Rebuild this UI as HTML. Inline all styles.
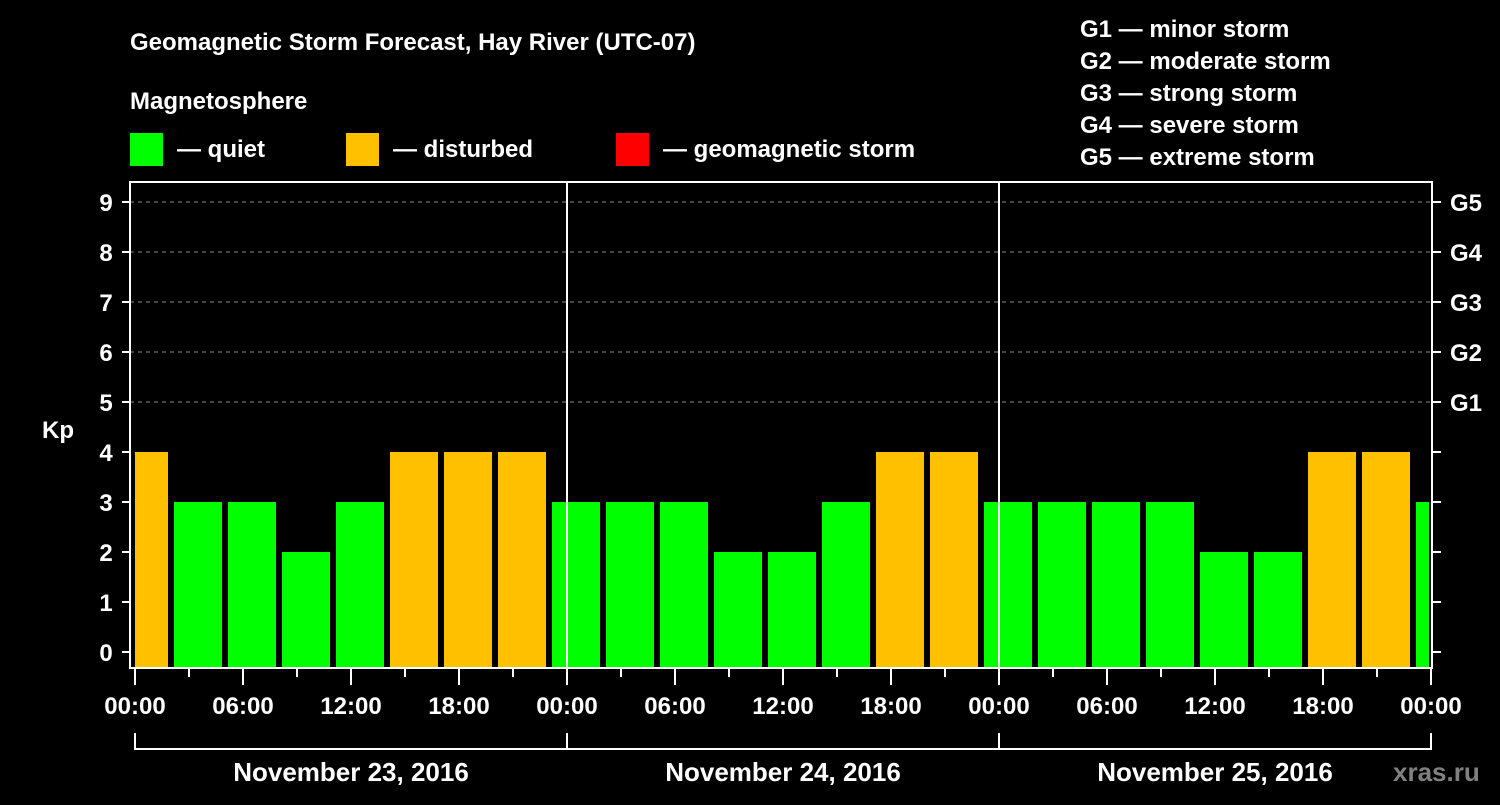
<!DOCTYPE html>
<html><head><meta charset="utf-8"><style>
html,body{margin:0;padding:0;background:#000;}
svg text{font-family:"Liberation Sans",sans-serif;font-weight:bold;fill:#fff;}
</style></head><body>
<svg id="chart" width="1500" height="800" xmlns="http://www.w3.org/2000/svg">
<rect width="1500" height="800" fill="#000"/>
<text x="130" y="50" font-size="24">Geomagnetic Storm Forecast, Hay River (UTC-07)</text>
<text x="130" y="109" font-size="24">Magnetosphere</text>
<g>
<rect x="130" y="133" width="33" height="33" fill="#00ff00"/>
<text x="177" y="157" font-size="24">— quiet</text>
<rect x="346" y="133" width="33" height="33" fill="#ffc000"/>
<text x="393" y="157" font-size="24">— disturbed</text>
<rect x="616" y="133" width="33" height="33" fill="#ff0000"/>
<text x="663" y="157" font-size="24">— geomagnetic storm</text>
</g>
<g font-size="24">
<text x="1080" y="37">G1 — minor storm</text>
<text x="1080" y="69">G2 — moderate storm</text>
<text x="1080" y="101">G3 — strong storm</text>
<text x="1080" y="133">G4 — severe storm</text>
<text x="1080" y="165">G5 — extreme storm</text>
</g>
<text x="42" y="438" font-size="24">Kp</text>
<text x="1393" y="781" font-size="26" style="fill:#808080">xras.ru</text>
<defs><clipPath id="plotclip"><rect x="135" y="180" width="1294" height="490"/></clipPath></defs>
<g id="grid"></g>
<g id="bars" clip-path="url(#plotclip)"></g>
<g id="axes"></g>
</svg>
<script>
const kpValues = [4,3,3,2,3,4,4,4, 3,3,3,2,2,3,4,4, 3,3,3,3,2,2,4,4, 3];
const yTicks = [0,1,2,3,4,5,6,7,8,9];
const gLabels = ["G1","G2","G3","G4","G5"];
const xTickLabels = ["00:00","06:00","12:00","18:00","00:00","06:00","12:00","18:00","00:00","06:00","12:00","18:00","00:00"];
const dayLabels = ["November 23, 2016","November 24, 2016","November 25, 2016"];

const NS = "http://www.w3.org/2000/svg";
const x0 = 135, pxPerHour = 18, barOffsetHours = 0.5;
function xScale(h){ return x0 + h*pxPerHour; }
function yScale(v){ return 652 - v*50; }
function mk(tag, attrs, parent){ const e=document.createElementNS(NS,tag); for(const k in attrs) e.setAttribute(k,attrs[k]); parent.appendChild(e); return e; }
function colorFor(v){ return v>=5 ? "#ff0000" : (v>=4 ? "#ffc000" : "#00ff00"); }

const grid = document.getElementById("grid");
const bars = document.getElementById("bars");
const axes = document.getElementById("axes");
const yBottom = 668;

yTicks.forEach(v => {
  if (v >= 5) {
    const l = mk("line",{x1:130,x2:1432,y1:yScale(v),y2:yScale(v),stroke:"#888","stroke-width":1,"stroke-dasharray":"4,4"},grid);
    
    
  }
});

kpValues.forEach((v,i) => {
  const c = xScale(i*3 + barOffsetHours);
  const r = mk("rect",{x:c-24,y:yScale(v),width:48,height:yBottom-yScale(v),fill:colorFor(v)},bars);
  
  
});

// day separators
[24,48].forEach(h => {
  const l = mk("line",{x1:xScale(h),x2:xScale(h),y1:182,y2:668,stroke:"#fff","stroke-width":2},axes);
  
  
});
// frame
const fr = mk("rect",{x:130,y:182,width:1302,height:486,fill:"none",stroke:"#fff","stroke-width":2},axes);



yTicks.forEach(v => {
  const y = yScale(v);
  const t = mk("line",{x1:122,x2:130,y1:y,y2:y,stroke:"#fff","stroke-width":2},axes);
  
  
  const tr = mk("line",{x1:1432,x2:1441,y1:y,y2:y,stroke:"#fff","stroke-width":2},axes);
  
  
  const tx = mk("text",{x:106,y:y+9,"font-size":24,"text-anchor":"middle"},axes);
  tx.textContent = v;
  
  
});
gLabels.forEach((g,i) => {
  const tx = mk("text",{x:1450,y:yScale(5+i)+9,"font-size":24},axes);
  tx.textContent = g;
  
  
});

for (let h=0; h<=72; h+=3) {
  const major = h%6===0;
  const t = mk("line",{x1:xScale(h),x2:xScale(h),y1:668,y2:major?685:677,stroke:"#fff","stroke-width":2},axes);
  
  
}
xTickLabels.forEach((lab,i) => {
  const tx = mk("text",{x:xScale(i*6),y:714,"font-size":24,"text-anchor":"middle"},axes);
  tx.textContent = lab;
  
  
});
const br = mk("path",{d:`M${xScale(0)},733 V749 H${xScale(72)} V733`,fill:"none",stroke:"#fff","stroke-width":2},axes);


[24,48].forEach(h => {
  const l = mk("line",{x1:xScale(h),x2:xScale(h),y1:733,y2:749,stroke:"#fff","stroke-width":2},axes);
  
  
});
dayLabels.forEach((d,i) => {
  const tx = mk("text",{x:xScale(i*24+12),y:781,"font-size":26,"text-anchor":"middle"},axes);
  tx.textContent = d;
  
  
});
</script>
</body></html>
